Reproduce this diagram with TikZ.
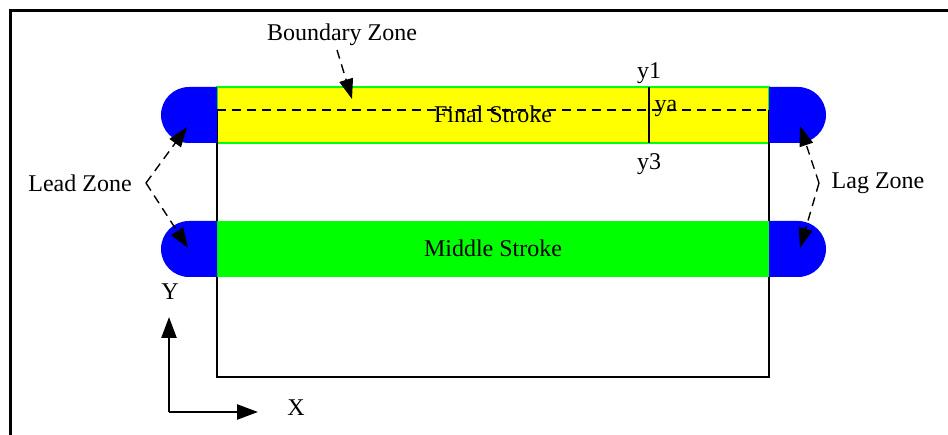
\documentclass[tikz,border=0pt]{standalone}
\usepackage{fontspec}
\setmainfont{Liberation Serif}
\usetikzlibrary{arrows.meta}
\definecolor{cyel}{RGB}{255,255,0}
\definecolor{cgrn}{RGB}{0,255,0}
\definecolor{cblu}{RGB}{0,0,255}
\begin{document}
\begin{tikzpicture}[x=1pt,y=-1pt,
  lbl/.style={font=\fontsize{24}{28}\selectfont, inner sep=0pt},
  darrow/.style={draw, dash pattern=on 9pt off 6pt, line width=1.4pt,
    -{Triangle[length=20pt,width=14pt]}},
  axisarrow/.style={draw, line width=2.5pt, -{Triangle[length=21pt,width=15pt]}},
  strokebox/.style={minimum width=552pt, minimum height=56pt, inner sep=0pt, outer sep=0pt}]
\useasboundingbox (0,0) rectangle (948,435);
% frame
\draw[line width=3pt] (10,435) -- (10,11) -- (948,11);
% final stroke (yellow)
\node[strokebox, fill=cyel, draw=cgrn, line width=1.5pt] (final) at (493,115) {};
% black rectangle
\draw[line width=1.2pt] (217,110) -- (217,377) -- (769,377) -- (769,110);
\draw[line width=1.4pt, dash pattern=on 9pt off 6pt] (217,110) -- (769,110);
% middle stroke (green)
\node[strokebox, fill=cgrn] (middle) at (493,249) {};
% caps
\fill[cblu] (217,87) -- (189,87) arc[start angle=90, end angle=270, radius=28pt] -- (217,143) -- cycle;
\fill[cblu] (769,87) -- (798,87) arc[start angle=90, end angle=-90, radius=28pt] -- (769,143) -- cycle;
\fill[cblu] (217,221) -- (189,221) arc[start angle=90, end angle=270, radius=28pt] -- (217,277) -- cycle;
\fill[cblu] (769,221) -- (798,221) arc[start angle=90, end angle=-90, radius=28pt] -- (769,277) -- cycle;
% y marker
\draw[line width=1.2pt] (649,87) -- (649,143);
\node[lbl] (y1) at (649,73) {y1};
\node[lbl] (y3) at (649,164) {y3};
\node[lbl] (ya) at (666,108) {ya};
% stroke labels
\node[lbl] (finaltext) at (493,114) {Final Stroke};
\node[lbl] (middletext) at (493,248) {Middle Stroke};
% boundary zone
\node[lbl] (bz) at (342,35) {Boundary Zone};
\coordinate (bzs) at (337,50);
\coordinate (bzt) at (352,99);
\draw[darrow] (bzs) -- (bzt);
% lead zone
\node[lbl] (lead) at (80,183) {Lead Zone};
\coordinate (leadap) at (146,183);
\coordinate (leadt1) at (187,127);
\coordinate (leadt2) at (188,248);
\draw[darrow] (leadap) -- (leadt1);
\draw[darrow] (leadap) -- (leadt2);
% lag zone
\node[lbl] (lag) at (878,183) {Lag Zone};
\coordinate (lagap) at (819,183);
\coordinate (lagt1) at (800,126);
\coordinate (lagt2) at (800,248);
\draw[darrow] (lagap) -- (lagt1);
\draw[darrow] (lagap) -- (lagt2);
% axes
\coordinate (origin) at (169,412);
\coordinate (yend) at (169,317);
\coordinate (xend) at (258,412);
\draw[axisarrow] (origin) -- (yend);
\draw[axisarrow] (origin) -- (xend);
\node[lbl] (ylab) at (170,292) {Y};
\node[lbl] (xlab) at (296,408) {X};
\end{tikzpicture}
\end{document}
